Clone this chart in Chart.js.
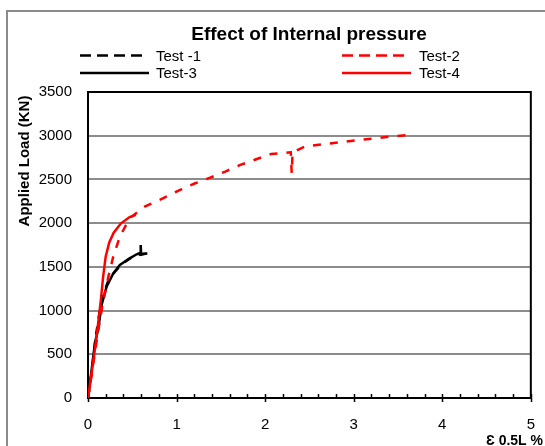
<!DOCTYPE html>
<html>
<head>
<meta charset="utf-8">
<script src="https://cdn.jsdelivr.net/npm/chart.js@4.4.1/dist/chart.umd.min.js"></script>
<style>
  html, body { margin: 0; padding: 0; background: #fff; }
  canvas { display: block; }
</style>
</head>
<body>
<canvas id="loadChart" width="545" height="446"></canvas>
<script>
const FONT = "'Liberation Sans', Arial, sans-serif";

// Test series (strain % , load kN)
const test1X = [0, 0.03, 0.06, 0.09, 0.13, 0.17, 0.22, 0.3, 0.38, 0.48, 0.56, 0.62, 0.66];
const test1Y = [0, 200, 450, 720, 980, 1160, 1320, 1440, 1530, 1600, 1635, 1650, 1650];

const test3X = [0, 0.02, 0.05, 0.08, 0.113, 0.155, 0.21, 0.285, 0.36, 0.47, 0.55, 0.59, 0.595, 0.6, 0.67];
const test3Y = [0, 150, 400, 640, 778, 1070, 1274, 1426, 1522, 1598, 1644, 1660, 1750, 1640, 1655];

const test2X = [0, 0.06, 0.12, 0.17, 0.23, 0.285, 0.36, 0.47, 0.55, 0.64, 0.85, 1.04, 1.21, 1.38, 1.55, 1.72, 1.9, 2.07, 2.26, 2.29, 2.3, 2.31, 2.45, 2.66, 2.84, 3.05, 3.24, 3.44, 3.65];
const test2Y = [0, 400, 800, 1100, 1388, 1617, 1846, 2056, 2120, 2190, 2285, 2380, 2456, 2521, 2590, 2666, 2731, 2792, 2807, 2810, 2571, 2810, 2876, 2902, 2925, 2951, 2970, 2993, 3012];

const test4X = [0, 0.04, 0.08, 0.12, 0.145, 0.17, 0.2, 0.24, 0.29, 0.37, 0.47, 0.54];
const test4Y = [0, 280, 570, 900, 1120, 1380, 1620, 1780, 1890, 1995, 2070, 2095];

const xTicks = [0, 1, 2, 3, 4, 5];
const yTicks = [0, 500, 1000, 1500, 2000, 2500, 3000, 3500];

function pts(xs, ys) {
  return xs.map((x, i) => ({ x: x, y: ys[i] }));
}

const series = [
  { label: "Test-4", xs: test4X, ys: test4Y, color: "#ff0000", dash: [], legendDash: [] },
  { label: "Test-2", xs: test2X, ys: test2Y, color: "#ff0000", dash: [8, 9], legendDash: [11, 6] },
  { label: "Test-3", xs: test3X, ys: test3Y, color: "#000000", dash: [], legendDash: [] },
  { label: "Test -1", xs: test1X, ys: test1Y, color: "#000000", dash: [8, 8], legendDash: [11, 6] }
];

// legend slots: [lineX1, lineX2, textX, y]
const legendSlots = {
  "Test -1": [80, 143, 156, 55.5],
  "Test-3": [80, 149, 156, 73],
  "Test-2": [342, 407, 419, 55.5],
  "Test-4": [342, 411, 419, 73]
};

const decorPlugin = {
  id: "decor",
  beforeDraw(chart) {
    const ctx = chart.ctx;
    ctx.save();
    ctx.fillStyle = "#fff";
    ctx.fillRect(0, 0, chart.width, chart.height);
    ctx.strokeStyle = "#8a8a8a";
    ctx.lineWidth = 2;
    ctx.strokeRect(7, 11, 700, 700);
    ctx.restore();
  },
  beforeDatasetsDraw(chart) {
    const ctx = chart.ctx;
    const a = chart.chartArea;
    const xs = chart.scales.x;
    ctx.save();
    ctx.strokeStyle = "#000";
    ctx.lineWidth = 2;
    ctx.strokeRect(a.left, a.top, a.right - a.left, a.bottom - a.top);
    // x axis ticks: majors cross the axis, minors point inward
    ctx.lineWidth = 1.5;
    for (let i = 0; i <= 25; i++) {
      const v = i * 0.2;
      const px = Math.round(xs.getPixelForValue(v)) + 0.5;
      const major = i % 5 === 0;
      ctx.beginPath();
      ctx.moveTo(px, a.bottom - 4);
      ctx.lineTo(px, major ? a.bottom + 4 : a.bottom);
      ctx.stroke();
    }
    ctx.restore();
  },
  afterDraw(chart) {
    const ctx = chart.ctx;
    ctx.save();
    ctx.fillStyle = "#000";
    // title
    ctx.font = "bold 19px " + FONT;
    ctx.textAlign = "center";
    ctx.textBaseline = "middle";
    ctx.fillText("Effect of Internal pressure", 309, 35);
    // legend
    ctx.font = "15px " + FONT;
    ctx.textAlign = "left";
    chart.data.datasets.forEach(ds => {
      const s = legendSlots[ds.label];
      ctx.strokeStyle = ds.borderColor;
      ctx.lineWidth = 2.5;
      ctx.setLineDash(ds.legendDash);
      ctx.beginPath();
      ctx.moveTo(s[0], s[3]);
      ctx.lineTo(s[1], s[3]);
      ctx.stroke();
      ctx.setLineDash([]);
      ctx.fillText(ds.label, s[2], s[3] + 1);
    });
    // axis titles
    ctx.font = "bold 14px " + FONT;
    ctx.textAlign = "right";
    ctx.fillText("\u0190 0.5L %", 543, 441);
    ctx.font = "bold 15px " + FONT;
    ctx.translate(25, 161);
    ctx.rotate(-Math.PI / 2);
    ctx.textAlign = "center";
    ctx.fillText("Applied Load (KN)", 0, 0);
    ctx.restore();
  }
};

new Chart(document.getElementById("loadChart").getContext("2d"), {
  type: "scatter",
  data: {
    datasets: series.map(s => ({
      label: s.label,
      data: pts(s.xs, s.ys),
      showLine: true,
      borderColor: s.color,
      borderWidth: 2.5,
      borderDash: s.dash,
      legendDash: s.legendDash,
      pointRadius: 0,
      tension: 0,
      fill: false
    }))
  },
  options: {
    responsive: false,
    animation: false,
    devicePixelRatio: 1,
    layout: { padding: { top: 92, right: 14, left: 0, bottom: 0 } },
    plugins: {
      legend: { display: false },
      title: { display: false },
      tooltip: { enabled: false }
    },
    scales: {
      x: {
        type: "linear",
        min: 0,
        max: 5,
        afterFit: s => { s.height = 48; },
        afterBuildTicks: s => { s.ticks = xTicks.map(v => ({ value: v })); },
        ticks: { color: "#000", font: { family: FONT, size: 15 }, padding: 10, callback: v => String(v) },
        grid: { display: false },
        border: { display: false }
      },
      y: {
        min: 0,
        max: 3500,
        afterFit: s => { s.width = 88; },
        afterBuildTicks: s => { s.ticks = yTicks.map(v => ({ value: v })); },
        ticks: { color: "#000", font: { family: FONT, size: 15 }, padding: 16, callback: v => String(v) },
        grid: { color: "#8c8c8c", lineWidth: 2, drawTicks: false },
        border: { display: false }
      }
    }
  },
  plugins: [decorPlugin]
});
</script>
</body>
</html>
